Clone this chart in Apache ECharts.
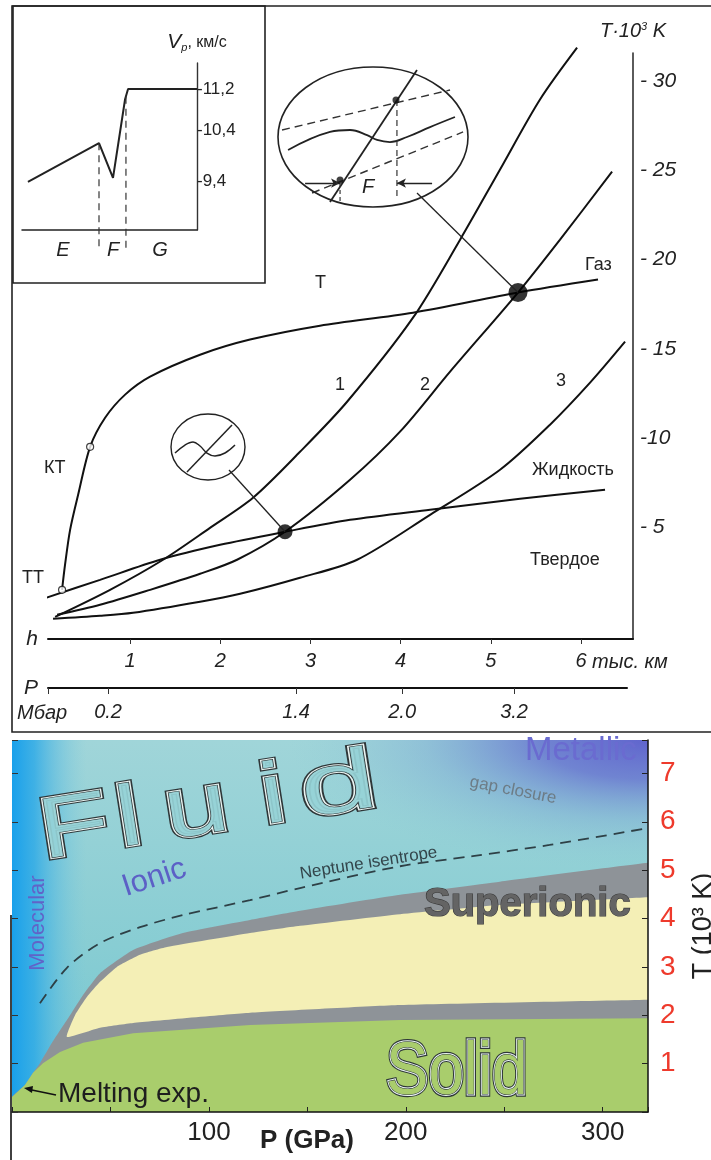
<!DOCTYPE html>
<html><head><meta charset="utf-8">
<script src="https://cdn.jsdelivr.net/npm/echarts@6/dist/echarts.min.js"></script>
<style>html,body{margin:0;padding:0;background:#fff}#main{width:711px;height:1160px}</style>
</head><body><div id="main"></div>
<script>
// ================= DATA =================
// --- top: temperature vs depth (h, thousand km ; T, 10^3 K)
const hTicks = [1, 2, 3, 4, 5, 6];
const tTicks = [5, 10, 15, 20, 25, 30];
const pTickDepth = [0.09, 0.756, 2.84, 4.016, 5.257, 6.51];
const pTickLabels = ['', '0.2', '1.4', '2.0', '3.2', '3.6'];
const curveBoil = [[0.246,1.46],[0.279,2.87],[0.335,4.83],[0.424,6.80],[0.557,9.49],[0.723,11.12],[0.945,12.42],[1.222,13.43],[1.776,14.66],[2.330,15.51],[3.106,16.29],[4.137,17.02],[5.301,18.15],[6.188,18.88]];
const curve1 = [[0.169,-0.06],[0.778,1.46],[1.366,3.15],[1.886,4.94],[2.363,6.63],[2.884,9.21],[3.406,12.02],[4.137,16.74],[4.659,21.12],[5.102,25.06],[5.545,28.99],[5.956,31.9]];
const curve2 = [[0.191,0.06],[0.667,0.62],[1.222,1.46],[1.776,2.36],[2.186,3.15],[2.718,4.72],[3.439,7.64],[3.993,10.34],[4.548,13.71],[5.301,18.15],[5.767,21.12],[6.344,24.94]];
const curve3 = [[0.146,-0.17],[0.667,0.0],[1.033,0.17],[1.776,0.79],[2.220,1.24],[2.884,2.14],[3.517,3.15],[4.326,5.67],[5.102,8.20],[5.656,10.73],[6.100,13.09],[6.488,15.39]];
const liquidus = [[0.035,0.96],[0.667,2.02],[1.333,3.15],[1.998,3.99],[2.718,4.72],[3.439,5.39],[4.326,5.96],[5.324,6.57],[6.266,7.08]];
const bigDots = [[2.718,4.72],[5.301,18.15]];
const openPoints = [[0.246,1.46],[0.557,9.49]];
// --- inset: Vp (km/s) across zones E, F, G
const vpTicks = [9.4, 10.4, 11.2];
const vpProfile = [[3.4,9.38],[44,10.14],[52,9.46],[58.9,11.0],[60.6,11.2],[100,11.2]];
const zoneBounds = [[44,10.14],[59.4,11.05]];
const zoneLabelPos = [23.4, 52, 78.9];
const zoneLabels = ['E', 'F', 'G'];
// --- magnifier sketches (local 0..100 units)
const bigS = [[4.8,40.7],[27,53.6],[37.6,55],[46.6,51.4],[51.9,47.9],[58.7,46.4],[67.7,50],[79.9,57.1],[93.1,64.3]];
const bigDiag = [[27,3.6],[73,97.9]];
const bigDashHi = [[1.6,55],[90.5,83.6]];
const bigDashLo = [[17.5,10],[97.4,53.6]];
const bigVert = [[62.4,76.4],[62.4,5]];
const bigShort = [[32.3,17.1],[32.3,2.9]];
const bigDots2 = [[61.9,76.4],[32.3,19.3]];
const smallS = [[4.1,41.5],[17.8,53.8],[28.8,58.5],[38.4,52.3],[47.9,41.5],[58.9,36.9],[72.6,41.5],[86.3,53.8]];
const smallDiag = [[20.5,12.3],[82.2,84.6]];
// --- bottom: water phase diagram (P GPa, T 10^3 K)
const pGpaLabels = [100, 200, 300];
const tKLabels = [1, 2, 3, 4, 5, 6, 7];
const meltGreenTop = [[0,0.31],[6.6,0.56],[10.7,0.81],[15.7,1.01],[24.4,1.24],[36.1,1.43],[61.5,1.63],[120.9,1.80],[197.1,1.90],[323,1.94],[345,1.95]];
const fluidBoundary = [[10.7,0.81],[14.2,1.01],[20.3,1.43],[27.9,1.90],[36.1,2.42],[44.7,2.87],[61.5,3.35],[86.8,3.70],[120.9,3.97],[146.3,4.16],[197.1,4.49],[247.8,4.76],[323,5.15],[345,5.2]];
const superTop = [[27.9,1.55],[32,2.0],[38.1,2.38],[44.7,2.69],[53.3,3.0],[65,3.25],[78.7,3.41],[120.9,3.70],[146.3,3.85],[197.1,4.09],[247.8,4.28],[323,4.44],[345,4.46]];
const superBottom = [[27.9,1.55],[44.7,1.74],[61.5,1.84],[120.9,2.05],[197.1,2.21],[323,2.32],[345,2.33]];
const neptune = [[14.2,2.25],[27.9,2.98],[44.7,3.49],[65,3.82],[86.8,4.07],[120.9,4.38],[146.3,4.63],[197.1,5.08],[234,5.29],[273,5.52],[323,5.87]];

// ================= CHART =================
const FF = '"Liberation Sans", Arial, sans-serif';
const chart = echarts.init(document.getElementById('main'));
const PMAX = 323, TMAX = 7.69;

function line(data, xi, opts) {
  return Object.assign({type:'line', xAxisIndex:xi, yAxisIndex:xi, data, showSymbol:false, symbol:'none',
    smooth:0.3, clip:false, silent:true, lineStyle:{color:'#111', width:2}}, opts || {});
}
function poly(pts, fill, z, smooth) {
  return {type:'custom', xAxisIndex:5, yAxisIndex:5, z, silent:true, clip:true, data:[[0,0]],
    renderItem:(p, api) => ({type:'polygon', shape:{points: pts.map(q => api.coord(q)), smooth: smooth || 0}, style:{fill}})};
}
const grayPoly = [[0,0],[0,0.31],[6.6,0.56]].concat(fluidBoundary, [[345,0]]);
const yellowPoly = superTop.concat(superBottom.slice(1).reverse());
const greenPoly = [[0,0]].concat(meltGreenTop, [[345,0]]);
const full = [[0,0],[PMAX,0],[PMAX,TMAX],[0,TMAX]];

const noZero = {onZero:false};
const G = (o) => Object.assign({outerBoundsMode:'none', containLabel:false}, o);
const hidden = {show:false, min:0, max:100, type:'value'};
const option = {
  animation:false,
  backgroundColor:'#fff',
  grid:[
    G({left:48, top:53, width:585, height:586}),
    G({left:48, top:688, width:579, height:10}),
    G({left:22, top:63, width:175, height:167}),
    G({left:279, top:67, width:189, height:140}),
    G({left:172, top:415, width:73, height:65}),
    G({left:12, top:740, width:636, height:372})
  ],
  xAxis:[
    {gridIndex:0, type:'value', min:0.09, max:6.576, name:'h', nameLocation:'start', nameGap:10,
     nameTextStyle:{fontSize:21, fontStyle:'italic', fontFamily:FF, color:'#222', verticalAlign:'middle'},
     axisLine:{onZero:false, lineStyle:{color:'#111', width:2}}, splitLine:{show:false},
     axisTick:{customValues:hTicks, length:5, lineStyle:{color:'#333'}},
     axisLabel:{customValues:hTicks, margin:12, fontSize:20, fontStyle:'italic', fontFamily:FF, color:'#222'}},
    {gridIndex:1, type:'value', min:0.09, max:6.509, position:'top', name:'P', nameLocation:'start', nameGap:10,
     nameTextStyle:{fontSize:21, fontStyle:'italic', fontFamily:FF, color:'#222', verticalAlign:'middle'},
     axisLine:{onZero:false, lineStyle:{color:'#111', width:2}}, splitLine:{show:false},
     axisTick:{customValues:pTickDepth, length:6, inside:true, lineStyle:{color:'#333'}},
     axisLabel:{customValues:pTickDepth, inside:true, margin:14, fontSize:20, fontStyle:'italic', fontFamily:FF, color:'#222',
       verticalAlign:'top', formatter:(v) => { const i = pTickDepth.findIndex(d => Math.abs(d - v) < 1e-6); return i >= 0 ? pTickLabels[i] : ''; }}},
    {gridIndex:2, type:'value', min:0, max:100, splitLine:{show:false}, axisLine:{onZero:false, lineStyle:{color:'#222', width:1.5}},
     axisTick:{show:false},
     axisLabel:{customValues:zoneLabelPos, margin:10, fontSize:20, fontStyle:'italic', fontFamily:FF, color:'#222',
       formatter:(v) => { const i = zoneLabelPos.findIndex(d => Math.abs(d - v) < 1e-6); return i >= 0 ? zoneLabels[i] : ''; }}},
    Object.assign({gridIndex:3}, hidden),
    Object.assign({gridIndex:4}, hidden),
    {gridIndex:5, type:'value', min:0, max:PMAX, interval:50, z:20, splitLine:{show:false},
     axisLine:{onZero:false, lineStyle:{color:'#111', width:1.5}},
     axisTick:{inside:true, length:5, lineStyle:{color:'#222'}},
     axisLabel:{margin:8, fontSize:26, fontFamily:FF, color:'#222', formatter:(v) => pGpaLabels.includes(v) ? String(v) : ''}}
  ],
  yAxis:[
    {gridIndex:0, type:'value', position:'right', min:-1.3, max:31.6, splitLine:{show:false},
     name:'{i|T·10}{s|3}{i| K}', nameLocation:'end', nameGap:12,
     nameTextStyle:{rich:{i:{fontSize:20, fontStyle:'italic', fontFamily:FF, color:'#222'}, s:{fontSize:11, fontStyle:'italic', fontFamily:FF, color:'#222', verticalAlign:'top', padding:[0,0,9,0]}}},
     axisLine:{onZero:false, lineStyle:{color:'#333', width:1.6}}, axisTick:{show:false},
     axisLabel:{customValues:tTicks, margin:7, fontSize:21, fontStyle:'italic', fontFamily:FF, color:'#222',
       formatter:(v) => v === 10 ? '-10' : '- ' + v}},
    {gridIndex:1, show:false, min:0, max:1, axisLine:noZero},
    {gridIndex:2, type:'value', position:'right', min:8.44, max:11.71, splitLine:{show:false},
     name:'{v|V}{p|p}{t|, км/с}', nameLocation:'end', nameGap:10,
     nameTextStyle:{rich:{v:{fontSize:21, fontStyle:'italic', fontFamily:FF, color:'#222'}, p:{fontSize:11, fontStyle:'italic', fontFamily:FF, color:'#222', verticalAlign:'bottom', padding:[9,0,0,0]}, t:{fontSize:16, fontFamily:FF, color:'#222'}}},
     axisLine:{onZero:false, lineStyle:{color:'#333', width:1.4}}, axisTick:{show:false},
     axisLabel:{customValues:vpTicks, margin:0, fontSize:17, fontFamily:FF, color:'#222',
       formatter:(v) => '-' + v.toFixed(1).replace('.', ',')}},
    Object.assign({gridIndex:3, axisLine:noZero}, hidden),
    Object.assign({gridIndex:4, axisLine:noZero}, hidden),
    {gridIndex:5, type:'value', position:'right', min:0, max:TMAX, interval:1, z:20, splitLine:{show:false},
     name:'T (10³ K)', nameLocation:'middle', nameRotate:90, nameGap:42,
     nameTextStyle:{fontSize:27, fontFamily:FF, color:'#222'},
     axisLine:{onZero:false, lineStyle:{color:'#111', width:1.5}},
     axisTick:{inside:true, length:6, lineStyle:{color:'#222'}},
     axisLabel:{margin:12, fontSize:28, fontFamily:FF, color:'#ee3a2c', formatter:(v) => tKLabels.includes(v) ? String(v) : ''}},
    {gridIndex:5, type:'value', position:'left', min:0, max:TMAX, interval:1, z:20, splitLine:{show:false},
     axisLine:{show:false, onZero:false}, axisTick:{inside:true, length:6, lineStyle:{color:'#333'}}, axisLabel:{show:false}}
  ],
  series:[
    // top curves
    line(liquidus, 0), line(curveBoil, 0), line(curve1, 0), line(curve2, 0), line(curve3, 0),
    {type:'scatter', xAxisIndex:0, yAxisIndex:0, silent:true, data:[bigDots[0]], symbolSize:15, itemStyle:{color:'#000'}, z:5},
    {type:'scatter', xAxisIndex:0, yAxisIndex:0, silent:true, data:[bigDots[1]], symbolSize:19, itemStyle:{color:'#000'}, z:5},
    {type:'scatter', xAxisIndex:0, yAxisIndex:0, silent:true, data:openPoints, symbolSize:7, itemStyle:{color:'#fff', borderColor:'#111', borderWidth:1.2}, z:6},
    // inset
    line(vpProfile, 2, {smooth:false, lineStyle:{color:'#222', width:2}}),
    line([[zoneBounds[0][0], zoneBounds[0][1]],[zoneBounds[0][0], 8.09]], 2, {smooth:false, lineStyle:{color:'#333', width:1.2, type:[7,5]}}),
    line([[zoneBounds[1][0], zoneBounds[1][1]],[zoneBounds[1][0], 8.09]], 2, {smooth:false, lineStyle:{color:'#333', width:1.2, type:[7,5]}}),
    // big magnifier
    line(bigS, 3, {smooth:0.4, lineStyle:{color:'#222', width:1.8}, z:8}),
    line(bigDiag, 3, {smooth:false, lineStyle:{color:'#222', width:1.8}, z:8}),
    line(bigDashHi, 3, {smooth:false, lineStyle:{color:'#333', width:1.4, type:[8,5]}, z:8}),
    line(bigDashLo, 3, {smooth:false, lineStyle:{color:'#333', width:1.4, type:[8,5]}, z:8}),
    line(bigVert, 3, {smooth:false, lineStyle:{color:'#333', width:1.2, type:[6,4]}, z:8}),
    line(bigShort, 3, {smooth:false, lineStyle:{color:'#333', width:1.2, type:[4,3]}, z:8,
      markLine:{silent:true, symbol:['none','arrow'], symbolSize:[7,9], label:{show:false}, lineStyle:{color:'#222', width:1.3, type:'solid'},
        data:[[{coord:[13.8,17.1]},{coord:[32.3,17.1]}],[{coord:[81,17.1]},{coord:[62.4,17.1]}]]}}),
    {type:'scatter', xAxisIndex:3, yAxisIndex:3, silent:true, data:bigDots2, symbolSize:7, itemStyle:{color:'#111'}, z:9},
    // small magnifier
    line(smallS, 4, {smooth:0.4, lineStyle:{color:'#222', width:1.5}, z:8}),
    line(smallDiag, 4, {smooth:false, lineStyle:{color:'#222', width:1.5}, z:8}),
    // bottom phase diagram
    poly(full, {type:'linear', x:0, y:0, x2:0, y2:1, colorStops:[{offset:0, color:'#a0d5d9'},{offset:0.55, color:'#88cdd3'},{offset:1, color:'#72c6d2'}]}, 1),
    poly([[0,0],[38,0],[38,TMAX],[0,TMAX]], {type:'linear', x:0, y:0, x2:1, y2:0, colorStops:[{offset:0, color:'rgba(25,160,235,1)'},{offset:0.3, color:'rgba(40,168,232,0.8)'},{offset:1, color:'rgba(120,200,222,0)'}]}, 2),
    {type:'custom', xAxisIndex:5, yAxisIndex:5, z:3, silent:true, clip:true, data:[[0,0]],
     renderItem:(p, api) => {
       const a = api.coord([140, TMAX]), b = api.coord([PMAX, 5.0]);
       const w = b[0] - a[0], h = b[1] - a[1];
       return {type:'rect', x:a[0], y:a[1], scaleX:w / h, shape:{x:0, y:0, width:h, height:h},
         style:{fill:{type:'radial', x:1, y:0, r:1, colorStops:[{offset:0, color:'rgba(96,100,205,1)'},{offset:0.3, color:'rgba(104,118,208,0.85)'},{offset:0.62, color:'rgba(118,160,212,0.38)'},{offset:1, color:'rgba(140,200,215,0)'}]}}};
     }},
    poly(grayPoly, '#8e9398', 4, 0.15),
    poly(yellowPoly, '#f4efb6', 5, 0.15),
    poly(greenPoly, '#a9cd6c', 6),
    line(neptune, 5, {smooth:0.3, z:7, lineStyle:{color:'#2e4046', width:1.8, type:[11,7]}})
  ]
};
chart.setOption(option);

// ---- annotations (graphic) ----
const g = [];
function txt(text, x, y, size, extra, st) {
  g.push(Object.assign({type:'text', x, y, z:100, silent:true,
    style:Object.assign({text, fontSize:size, fontFamily:FF, fill:'#222', textAlign:'left', textVerticalAlign:'middle'}, st || {})}, extra || {}));
}
// frames
g.push({type:'rect', z:100, silent:true, shape:{x:12, y:6, width:712, height:726}, style:{fill:'none', stroke:'#222', lineWidth:1.6}});
g.push({type:'rect', z:100, silent:true, shape:{x:13, y:6, width:252, height:277}, style:{fill:'none', stroke:'#222', lineWidth:1.6}});
g.push({type:'line', z:100, silent:true, shape:{x1:11, y1:915, x2:11, y2:1160}, style:{stroke:'#111', lineWidth:1.6}});
// top labels
txt('тыс. км', 592, 662, 20, null, {fontStyle:'italic'});
txt('Мбар', 17, 713, 20, null, {fontStyle:'italic'});
txt('T', 315, 283, 18);
txt('Газ', 585, 265, 18);
txt('1', 335, 385, 18);
txt('2', 420, 385, 18);
txt('3', 556, 381, 18);
txt('КТ', 44, 468, 18);
txt('ТТ', 22, 578, 18);
txt('Жидкость', 532, 470, 18);
txt('Твердое', 530, 560, 18);
// magnifiers
g.push({type:'ellipse', z:100, silent:true, shape:{cx:373, cy:137, rx:95, ry:70}, style:{fill:'none', stroke:'#222', lineWidth:1.6}});
g.push({type:'ellipse', z:100, silent:true, shape:{cx:208, cy:447, rx:37, ry:33}, style:{fill:'none', stroke:'#222', lineWidth:1.4}});
txt('F', 362, 187, 20, null, {fontStyle:'italic'});
const d1 = chart.convertToPixel({xAxisIndex:0, yAxisIndex:0}, bigDots[0]);
const d2 = chart.convertToPixel({xAxisIndex:0, yAxisIndex:0}, bigDots[1]);
g.push({type:'line', z:100, silent:true, shape:{x1:229, y1:470, x2:d1[0], y2:d1[1]}, style:{stroke:'#222', lineWidth:1.3}});
g.push({type:'line', z:100, silent:true, shape:{x1:417, y1:193, x2:d2[0], y2:d2[1]}, style:{stroke:'#222', lineWidth:1.3}});

// bottom outlined titles
function outlined(letters, gx, gy, rot, size, fill, sx) {
  const children = [];
  letters.forEach(([ch, dx, lsx]) => {
    const base = {text:ch, fontSize:size, fontFamily:FF, textAlign:'left', textVerticalAlign:'bottom'};
    const e = {x:dx, y:0, scaleX:lsx || 1};
    children.push(Object.assign({type:'text', z:100, style:Object.assign({}, base, {fill:'none', stroke:'#2e3638', lineWidth:5.5})}, e));
    children.push(Object.assign({type:'text', z:101, style:Object.assign({}, base, {fill:'none', stroke:'#eaf4f2', lineWidth:3.1})}, e));
    children.push(Object.assign({type:'text', z:102, style:Object.assign({}, base, {fill, stroke:'#2e3638', lineWidth:1.1})}, e));
  });
  g.push({type:'group', x:gx, y:gy, rotation:rot, scaleX:sx || 1, z:100, silent:true, children});
}
outlined([['F',0],['l',58],['u',94],['i',166],['d',196,1.2]], 46, 878, 9*Math.PI/180, 86, 'rgba(150,210,215,0.92)', 1.35);
outlined([['Solid',0]], 386, 1111, 0, 74, '#a9cd6c', 0.86);
txt('Superionic', 424, 905, 40, null, {fontWeight:'bold', fill:'#646464', stroke:'#3a3a3a', lineWidth:1.2});
txt('Metallic', 525, 751, 33, null, {fill:'#6a6bd0'});
txt('gap closure', 470, 782, 17, {rotation:-11*Math.PI/180}, {fill:'#6d7c86'});
txt('Ionic', 123, 888, 31, {rotation:18*Math.PI/180}, {fill:'#5c60c6'});
txt('Molecular', 38, 923, 22, {rotation:Math.PI/2}, {fill:'#6163c8', textAlign:'center'});
txt('Neptune isentrope', 300, 874, 17, {rotation:9*Math.PI/180}, {fill:'#33454b'});
txt('Melting exp.', 58, 1094, 28, null, {fill:'#1e1e1e'});
txt('P (GPa)', 307, 1141, 26, null, {fontWeight:'bold', textAlign:'center'});
g.push({type:'line', z:100, silent:true, shape:{x1:56, y1:1095, x2:27, y2:1089}, style:{stroke:'#111', lineWidth:1.6}});
g.push({type:'polygon', z:100, silent:true, shape:{points:[[24,1088],[33,1086],[32,1093]]}, style:{fill:'#111'}});
chart.setOption({graphic:g});
</script>
</body></html>
